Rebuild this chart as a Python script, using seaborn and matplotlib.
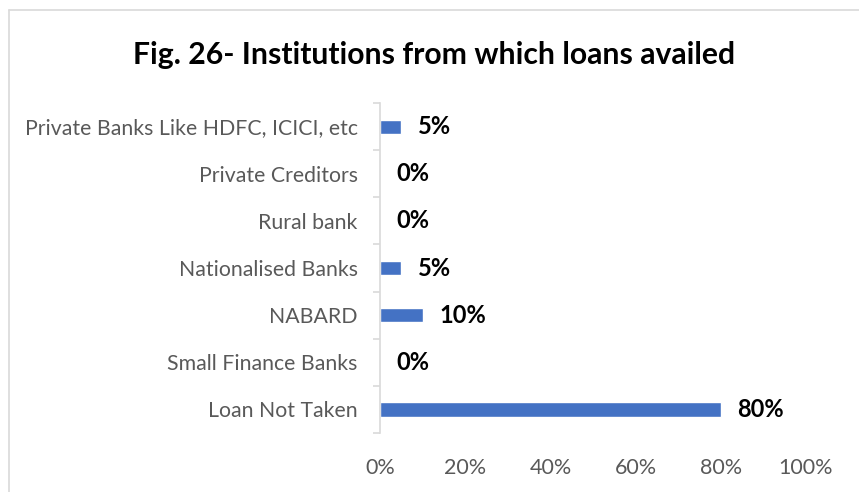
import matplotlib
matplotlib.use("Agg")
import matplotlib.pyplot as plt
import seaborn as sns
import pandas as pd
from matplotlib.lines import Line2D
from matplotlib.ticker import FixedLocator

institutions = [
    "Private Banks Like HDFC, ICICI, etc",
    "Private Creditors",
    "Rural bank",
    "Nationalised Banks",
    "NABARD",
    "Small Finance Banks",
    "Loan Not Taken",
]
share_pct = [5, 0, 0, 5, 10, 0, 80]
x_ticks = [0, 20, 40, 60, 80, 100]
x_tick_labels = ["0%", "20%", "40%", "60%", "80%", "100%"]

df = pd.DataFrame({"institution": institutions, "share": share_pct})

sns.set_theme(style="white")
plt.rcParams["font.family"] = ["Lato", "DejaVu Sans"]

fig = plt.figure(figsize=(8.59, 4.92), dpi=100)
ax = fig.add_axes([380 / 859, 1 - 433 / 492, (806 - 380) / 859, (433 - 103) / 492])

sns.barplot(data=df, x="share", y="institution", orient="h", color="#4472C4",
            width=0.3, ax=ax, saturation=1)

ax.set_xlim(0, 100)
ax.set_ylim(len(institutions) - 0.5, -0.5)
ax.set_xticks(x_ticks)
ax.set_xticklabels(x_tick_labels)
ax.set_xlabel("")
ax.set_ylabel("")

for s in ["top", "right", "bottom"]:
    ax.spines[s].set_visible(False)
ax.spines["left"].set_color("#d9d9d9")
ax.spines["left"].set_linewidth(1.2)

ax.tick_params(axis="x", length=0, labelsize=15.5, labelcolor="#595959", pad=18)
ax.tick_params(axis="y", which="major", length=0, labelsize=15.3, labelcolor="#595959", pad=16)
ax.yaxis.set_minor_locator(FixedLocator([i - 0.5 for i in range(len(institutions) + 1)]))
ax.tick_params(axis="y", which="minor", length=5, width=1.2, color="#d9d9d9", left=True)

for i, v in enumerate(share_pct):
    ax.annotate(f"{v}%", xy=(v, i), xytext=(12, 0), textcoords="offset points",
                va="center", ha="left", fontsize=17, fontweight="bold", color="black")

fig.text(434 / 859, 1 - 55 / 492, "Fig. 26- Institutions from which loans availed",
         ha="center", va="center", fontsize=21.7, fontweight="bold", color="black")

# chart frame
fig.add_artist(Line2D([9 / 859, 9 / 859], [0, 1 - 10 / 492], transform=fig.transFigure,
                      color="#d9d9d9", linewidth=1.2))
fig.add_artist(Line2D([9 / 859, 1], [1 - 10 / 492, 1 - 10 / 492], transform=fig.transFigure,
                      color="#d9d9d9", linewidth=1.2))

fig.savefig("out.png", dpi=100)
